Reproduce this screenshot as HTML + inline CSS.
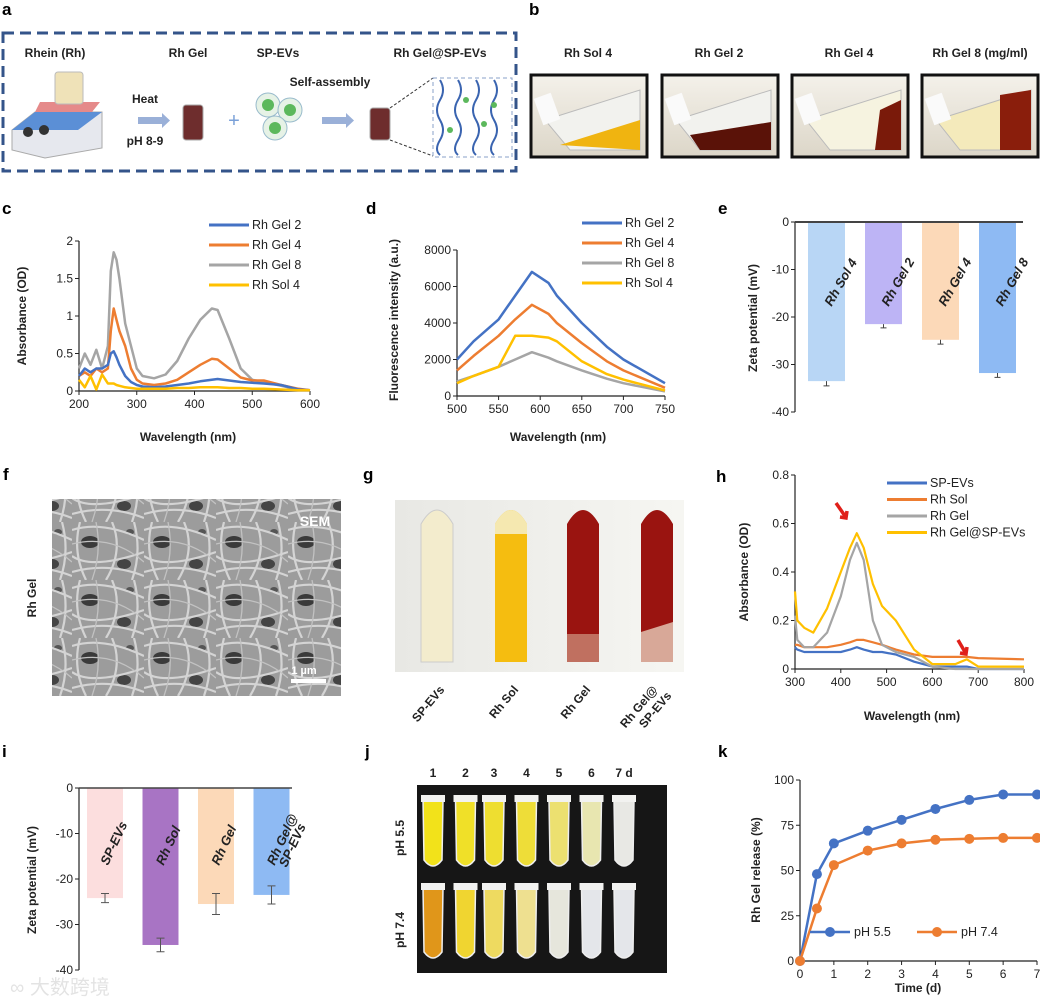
<!DOCTYPE html>
<html><head><meta charset="utf-8"><style>
body{margin:0;background:#fff;}
svg{display:block;font-family:"Liberation Sans",Arial,sans-serif;}
.pl{font-size:17px;font-weight:bold;}
.tk{font-size:12px;fill:#222;}
.at{font-size:12px;font-weight:bold;fill:#222;}
.lg{font-size:12.5px;fill:#222;}
</style></head><body>
<svg id="fig" width="1040" height="999" viewBox="0 0 1040 999">
<defs>
<linearGradient id="bg1" x1="0" x2="0" y1="0" y2="1"><stop offset="0" stop-color="#f4f1ea"/><stop offset="1" stop-color="#dcd6c8"/></linearGradient>
<linearGradient id="gbg" x1="0" x2="1"><stop offset="0" stop-color="#e8e8e4"/><stop offset="1" stop-color="#f6f6f2"/></linearGradient>
<pattern id="sem" width="72" height="58" patternUnits="userSpaceOnUse">
<rect width="72" height="58" fill="#9c9c9c"/>
<ellipse cx="18" cy="20" rx="9" ry="6" fill="#3a3a3a"/>
<ellipse cx="52" cy="42" rx="7" ry="5" fill="#444"/>
<ellipse cx="58" cy="10" rx="4" ry="3" fill="#555"/>
<path d="M0 8 Q30 -2 72 18 M0 34 Q20 48 72 30 M8 0 Q0 30 14 58 M40 0 Q52 28 34 58 M0 50 Q36 40 72 54 M62 0 Q70 30 60 58" stroke="#d4d4d4" stroke-width="2.2" fill="none"/>
<path d="M0 22 Q40 12 72 40 M24 0 Q30 30 20 58" stroke="#c2c2c2" stroke-width="1.3" fill="none"/>
</pattern>
</defs>

<!-- Panel a -->
<g>
<text class="pl" x="2" y="15">a</text>
<rect x="3" y="33" width="513" height="138" fill="none" stroke="#34548a" stroke-width="3" stroke-dasharray="11,6"/>
<g font-size="12" font-weight="bold" fill="#222">
<text x="55" y="57" text-anchor="middle">Rhein (Rh)</text>
<text x="188" y="57" text-anchor="middle">Rh Gel</text>
<text x="278" y="57" text-anchor="middle">SP-EVs</text>
<text x="440" y="57" text-anchor="middle">Rh Gel@SP-EVs</text>
<text x="145" y="103" text-anchor="middle">Heat</text>
<text x="145" y="145" text-anchor="middle">pH 8-9</text>
<text x="330" y="86" text-anchor="middle">Self-assembly</text>
</g>
<g>
<path d="M12 130 L35 112 L102 112 L102 148 L45 158 L12 150 Z" fill="#e6e8ee" stroke="#aaa"/>
<path d="M12 130 L35 112 L102 112 L78 130 Z" fill="#5b8fd6"/>
<circle cx="28" cy="132" r="5" fill="#333"/><circle cx="44" cy="130" r="5" fill="#333"/>
<path d="M40 102 L100 102 L92 112 L35 112 Z" fill="#e58a8a"/>
<rect x="55" y="72" width="28" height="32" rx="3" fill="#efe2b8" stroke="#bbb"/>
</g>
<rect x="138" y="117" width="24" height="7" fill="#9ab0d8"/>
<path d="M162 113 L170 120.5 L162 128Z" fill="#9ab0d8"/>
<rect x="183" y="105" width="20" height="35" rx="3" fill="#6e2d2d" stroke="#aaa"/>
<text x="234" y="127" font-size="20" fill="#7aa0d8" text-anchor="middle">+</text>
<g>
<circle cx="268" cy="105" r="12" fill="#e6f2e6" stroke="#9bc"/><circle cx="268" cy="105" r="6" fill="#5cb85c"/>
<circle cx="290" cy="110" r="12" fill="#e6f2e6" stroke="#9bc"/><circle cx="290" cy="110" r="6" fill="#5cb85c"/>
<circle cx="275" cy="128" r="12" fill="#e6f2e6" stroke="#9bc"/><circle cx="275" cy="128" r="6" fill="#5cb85c"/>
</g>
<rect x="322" y="117" width="24" height="7" fill="#9ab0d8"/><path d="M346 113 L354 120.5 L346 128Z" fill="#9ab0d8"/>
<rect x="370" y="108" width="20" height="32" rx="3" fill="#6e2d2d" stroke="#aaa"/>
<path d="M390 108 L433 78 M390 140 L433 156" stroke="#333" stroke-dasharray="3,2"/>
<rect x="433" y="78" width="79" height="79" fill="#fff" stroke="#8aa0c8" stroke-dasharray="4,3"/>
<g stroke="#3a64b0" stroke-width="2" fill="none">
<path d="M440 80 q6 10 0 20 q-6 10 0 20 q6 10 0 20 q-6 10 0 15"/>
<path d="M458 80 q6 10 0 20 q-6 10 0 20 q6 10 0 20 q-6 10 0 15"/>
<path d="M476 80 q6 10 0 20 q-6 10 0 20 q6 10 0 20 q-6 10 0 15"/>
<path d="M494 80 q6 10 0 20 q-6 10 0 20 q6 10 0 20 q-6 10 0 15"/>
</g>
<g fill="#5cb85c"><circle cx="466" cy="100" r="3"/><circle cx="484" cy="124" r="3"/><circle cx="450" cy="130" r="3"/><circle cx="494" cy="105" r="3"/></g>
</g>

<!-- Panel b -->
<g>
<text class="pl" x="529" y="15">b</text>
<g font-size="12" font-weight="bold" fill="#222" text-anchor="middle">
<text x="588" y="57">Rh Sol 4</text><text x="719" y="57">Rh Gel 2</text><text x="849" y="57">Rh Gel 4</text><text x="980" y="57">Rh Gel 8 (mg/ml)</text>
</g>
<g><rect x="531" y="75" width="116" height="82" fill="url(#bg1)" stroke="#111" stroke-width="3"/><path d="M545 120 L640 90 L640 150 L570 150Z" fill="#f2f2ee" stroke="#bbb"/><path d="M560 145 L640 120 L640 150 Z" fill="#f0b410"/><rect x="538" y="95" width="18" height="28" fill="#fafafa" transform="rotate(-20 547 109)"/></g>
<g><rect x="662" y="75" width="116" height="82" fill="url(#bg1)" stroke="#111" stroke-width="3"/><path d="M676 120 L771 90 L771 150 L700 150Z" fill="#f2f2ee" stroke="#bbb"/><path d="M690 135 L771 122 L771 150 L700 150 Z" fill="#5a1208"/><rect x="669" y="95" width="18" height="28" fill="#fafafa" transform="rotate(-20 678 109)"/></g>
<g><rect x="792" y="75" width="116" height="82" fill="url(#bg1)" stroke="#111" stroke-width="3"/><path d="M806 120 L901 90 L901 150 L830 150Z" fill="#f6f3e0" stroke="#bbb"/><path d="M880 110 L901 100 L901 150 L875 150 Z" fill="#7a1a0a"/><rect x="799" y="95" width="18" height="28" fill="#fafafa" transform="rotate(-20 808 109)"/></g>
<g><rect x="922" y="75" width="116" height="82" fill="url(#bg1)" stroke="#111" stroke-width="3"/><path d="M936 120 L1031 90 L1031 150 L960 150Z" fill="#f4eabb" stroke="#bbb"/><path d="M1000 95 L1031 90 L1031 150 L1000 150 Z" fill="#8a1e0c"/><rect x="929" y="95" width="18" height="28" fill="#fafafa" transform="rotate(-20 938 109)"/></g>
</g>

<!-- Chart layers -->
<g id="charts"></g>

<!-- Panel f -->
<g>
<text class="pl" x="3" y="480">f</text>
<text class="at" transform="translate(36,598) rotate(-90)" text-anchor="middle" font-size="13">Rh Gel</text>
<rect x="52" y="499" width="289" height="197" fill="url(#sem)"/>
<text x="315" y="526" font-size="14" font-weight="bold" fill="#fff" text-anchor="middle">SEM</text>
<text x="304" y="674" font-size="11" font-weight="bold" fill="#fff" text-anchor="middle">1 µm</text>
<rect x="291" y="679" width="35" height="4" fill="#fff"/>
</g>

<!-- Panel g -->
<g>
<text class="pl" x="363" y="480">g</text>
<rect x="395" y="500" width="289" height="172" fill="url(#gbg)"/>
<g><path d="M421 662 L421 524 Q437 496 453 524 L453 662Z" fill="#f3eccd" stroke="#ccc"/></g>
<g><path d="M495 662 L495 524 Q511 496 527 524 L527 662Z" fill="#f5bd10"/><path d="M495 534 L495 524 Q511 496 527 524 L527 534Z" fill="#f5e8b0"/></g>
<g><path d="M567 660 L567 524 Q583 496 599 524 L599 660Z" fill="#9a1410"/><rect x="567" y="634" width="32" height="28" fill="#c07060"/></g>
<g><path d="M641 660 L641 524 Q657 496 673 524 L673 660Z" fill="#9a1410"/><path d="M641 632 L673 622 L673 662 L641 662Z" fill="#d8a898"/></g>
<g font-size="12" font-weight="bold" fill="#222" text-anchor="end">
<text transform="translate(445,690) rotate(-50)">SP-EVs</text>
<text transform="translate(519,690) rotate(-50)">Rh Sol</text>
<text transform="translate(591,690) rotate(-50)">Rh Gel</text>
<text transform="translate(658,690) rotate(-50)">Rh Gel@</text>
<text transform="translate(672,696) rotate(-50)">SP-EVs</text>
</g>
</g>

<!-- Panel j -->
<g>
<text class="pl" x="365" y="757">j</text>
<rect x="417" y="785" width="250" height="188" fill="#161616"/>
<g id="jtubes"></g>
<text class="at" transform="translate(404,838) rotate(-90)" text-anchor="middle" font-size="13">pH 5.5</text>
<text class="at" transform="translate(404,930) rotate(-90)" text-anchor="middle" font-size="13">pH 7.4</text>
</g>
<text x="10" y="994" font-size="20" fill="#ddd" opacity="0.8">∞ 大数跨境</text>

<script>
// ---------- DATA ----------
const cWave = [200,210,220,230,240,250,255,260,265,270,280,290,300,310,330,350,370,390,410,430,440,460,480,500,520,550,580,600];
const cGel8 = [0.3,0.5,0.35,0.55,0.3,0.6,1.6,1.85,1.75,1.5,0.9,0.6,0.3,0.2,0.17,0.22,0.4,0.7,0.95,1.1,1.08,0.7,0.3,0.15,0.12,0.07,0.02,0.01];
const cGel4 = [0.2,0.25,0.2,0.3,0.25,0.3,0.8,1.1,0.95,0.8,0.6,0.3,0.15,0.1,0.08,0.1,0.15,0.25,0.35,0.43,0.42,0.3,0.18,0.14,0.14,0.08,0.03,0.01];
const cGel2 = [0.2,0.3,0.25,0.3,0.3,0.35,0.5,0.53,0.45,0.35,0.2,0.12,0.08,0.06,0.05,0.06,0.08,0.1,0.13,0.15,0.16,0.14,0.12,0.11,0.1,0.08,0.02,0.01];
const cSol4 = [0.15,0.05,0.2,0.02,0.22,0.1,0.1,0.1,0.08,0.07,0.05,0.04,0.03,0.03,0.03,0.03,0.04,0.04,0.05,0.05,0.05,0.04,0.04,0.03,0.03,0.02,0.01,0.01];
const cXTicks = [200,300,400,500,600];
const cYTicks = [0,0.5,1,1.5,2];
const dWave = [500,520,550,570,590,610,620,650,680,700,750];
const dGel2 = [2000,3000,4200,5500,6800,6200,5500,4000,2700,2000,700];
const dGel4 = [1400,2200,3300,4200,5000,4500,4000,2900,1900,1400,450];
const dGel8 = [800,1100,1600,2000,2400,2100,1900,1400,950,700,250];
const dSol4 = [700,1100,1600,3300,3300,3200,3000,1900,1200,900,300];
const dXTicks = [500,550,600,650,700,750];
const dYTicks = [0,2000,4000,6000,8000];
const eCats = ["Rh Sol 4","Rh Gel 2","Rh Gel 4","Rh Gel 8"];
const eVals = [-33.5,-21.5,-24.8,-31.8];
const eErr = [1.0,0.8,0.9,0.9];
const eYTicks = [0,-10,-20,-30,-40];
const hWave = [300,305,320,340,370,400,420,435,450,470,490,520,560,600,650,675,700,800];
const hEVs = [0.09,0.08,0.07,0.07,0.07,0.07,0.08,0.09,0.08,0.07,0.07,0.06,0.03,0.01,0.01,0.01,0.0,0.0];
const hSol = [0.1,0.1,0.09,0.09,0.09,0.1,0.11,0.12,0.12,0.11,0.1,0.08,0.06,0.05,0.05,0.05,0.045,0.04];
const hGel = [0.22,0.12,0.09,0.09,0.15,0.3,0.45,0.52,0.45,0.2,0.1,0.07,0.05,0.01,0.0,0.0,0.0,0.0];
const hGelEV = [0.32,0.2,0.17,0.15,0.25,0.4,0.5,0.56,0.5,0.35,0.26,0.2,0.08,0.02,0.02,0.04,0.01,0.01];
const hXTicks = [300,400,500,600,700,800];
const hYTicks = [0,0.2,0.4,0.6,0.8];
const iCats = ["SP-EVs","Rh Sol","Rh Gel","Rh Gel@ SP-EVs"];
const iVals = [-24.2,-34.5,-25.5,-23.5];
const iErr = [1.0,1.5,2.3,2.0];
const kDays = [0,0.5,1,2,3,4,5,6,7];
const k55 = [0,48,65,72,78,84,89,92,92];
const k74 = [0,29,53,61,65,67,67.5,68,68];
const kXTicks = [0,1,2,3,4,5,6,7];
const kYTicks = [0,25,50,75,100];
const jDays = ["1","2","3","4","5","6","7 d"];
const j55 = ["#f2e21a","#f0e028","#eede30","#eedd38","#ece070","#e8e6b0","#e8e8e4"];
const j74 = ["#e0961a","#f0d530","#eeda60","#eee090","#e6e6dc","#e4e6ea","#e4e6ea"];

// ---------- HELPERS ----------
const NS = "http://www.w3.org/2000/svg";
const root = document.getElementById('charts');
function lin(d0,d1,r0,r1){return v=>r0+(v-d0)*(r1-r0)/(d1-d0);}
function mk(tag,attrs,parent){const e=document.createElementNS(NS,tag);for(const k in attrs)e.setAttribute(k,attrs[k]);(parent||root).appendChild(e);return e;}
function txt(s,x,y,cls,anchor,parent){const t=mk('text',{x:x,y:y,class:cls,'text-anchor':anchor||'middle'},parent);t.textContent=s;return t;}
function line(xs,ys,sx,sy,color,w,name){
  let d='';xs.forEach((v,i)=>{d+=(i?'L':'M')+sx(v).toFixed(1)+' '+sy(ys[i]).toFixed(1);});
  const p=mk('path',{d:d,fill:'none',stroke:color,'stroke-width':w,'stroke-linejoin':'round'});
  
  
  return p;
}
function axes(x0,x1,y0,y1,sx,sy,xt,yt,fmtx,fmty){
  const a=mk('path',{d:`M${x0} ${y1} L${x0} ${y0} L${x1} ${y0}`,fill:'none',stroke:'#222','stroke-width':1.2});
  
  
  yt.forEach(v=>{mk('path',{d:`M${x0-4} ${sy(v)} L${x0} ${sy(v)}`,stroke:'#222'});
    const t=txt(fmty(v),x0-6,sy(v)+4,'tk','end');});
  if(xt) xt.forEach(v=>{mk('path',{d:`M${sx(v)} ${y0} L${sx(v)} ${y0+4}`,stroke:'#222'});
    const t=txt(fmtx(v),sx(v),y0+17,'tk');});
}
function legend(items,x,y,dy){
  items.forEach((it,i)=>{mk('path',{d:`M${x} ${y+i*dy} L${x+40} ${y+i*dy}`,stroke:it[1],'stroke-width':3});
    const t=txt(it[0],x+43,y+i*dy+4,'lg','start');});
}
function ylabel(s,x,y){const t=mk('text',{transform:`translate(${x},${y}) rotate(-90)`,class:'at','text-anchor':'middle'});t.textContent=s;}
function xlabel(s,x,y){const t=txt(s,x,y,'at');}
function plab(s,x,y){const t=txt(s,x,y,'pl','start');}
const BLUE='#4472c4',ORANGE='#ed7d31',GRAY='#a5a5a5',YEL='#ffc000';

// ---------- c ----------
plab('c',2,214);
{const sx=lin(200,600,79,310), sy=lin(0,2,391,241);
 axes(79,310,391,241,sx,sy,cXTicks,cYTicks,v=>v,v=>v);
 line(cWave,cGel8,sx,sy,GRAY,2.5,'line-rh-gel-8');
 line(cWave,cGel4,sx,sy,ORANGE,2.5,'line-rh-gel-4');
 line(cWave,cGel2,sx,sy,BLUE,2.5,'line-rh-gel-2');
 line(cWave,cSol4,sx,sy,YEL,2.5,'line-rh-sol-4');
 legend([['Rh Gel 2',BLUE],['Rh Gel 4',ORANGE],['Rh Gel 8',GRAY],['Rh Sol 4',YEL]],209,225,20);
 ylabel('Absorbance (OD)',26,316); xlabel('Wavelength (nm)',188,441);}

// ---------- d ----------
plab('d',366,214);
{const sx=lin(500,750,457,665), sy=lin(0,8000,396,250);
 axes(457,665,396,250,sx,sy,dXTicks,dYTicks,v=>v,v=>v);
 line(dWave,dGel2,sx,sy,BLUE,2.5,'line-rh-gel-2');
 line(dWave,dGel4,sx,sy,ORANGE,2.5,'line-rh-gel-4');
 line(dWave,dGel8,sx,sy,GRAY,2.5,'line-rh-gel-8');
 line(dWave,dSol4,sx,sy,YEL,2.5,'line-rh-sol-4');
 legend([['Rh Gel 2',BLUE],['Rh Gel 4',ORANGE],['Rh Gel 8',GRAY],['Rh Sol 4',YEL]],582,223,20);
 ylabel('Fluorescence intensity (a.u.)',398,320); xlabel('Wavelength (nm)',558,441);}

// ---------- e ----------
plab('e',718,214);
{const eCol=['#b8d6f5','#bdb4f5','#fcd9b8','#8ebaf3'];
 const sy=lin(0,-40,222,412), bx0=808, bstep=57, bw=37;
 mk('path',{d:`M795 412 L795 222`,stroke:'#222','stroke-width':1.2});
 eYTicks.forEach(v=>{mk('path',{d:`M791 ${sy(v)} L795 ${sy(v)}`,stroke:'#222'});const t=txt(v,789,sy(v)+4,'tk','end');});
 eVals.forEach((v,i)=>{const x=bx0+i*bstep;
  const r=mk('rect',{x:x,y:sy(0),width:bw,height:sy(v)-sy(0),fill:eCol[i]});
  
  
  const cx=x+bw/2;
  mk('path',{d:`M${cx} ${sy(v)} L${cx} ${sy(v-eErr[i])} M${cx-3} ${sy(v-eErr[i])} L${cx+3} ${sy(v-eErr[i])}`,stroke:'#444'});
  const t=mk('text',{transform:`translate(${cx+5},${sy(0)+85}) rotate(-60)`,'font-size':'13','font-weight':'bold','font-style':'italic',fill:'#222'});t.textContent=eCats[i];
  
  
 });
 mk('path',{d:`M795 222 L1023 222`,stroke:'#444','stroke-width':2});
 ylabel('Zeta potential (mV)',757,318);}

// ---------- h ----------
plab('h',716,482);
{const sx=lin(300,800,795,1024), sy=lin(0,0.8,669,475);
 axes(795,1024,669,475,sx,sy,hXTicks,hYTicks,v=>v,v=>v===0?'0':v.toFixed(1));
 line(hWave,hEVs,sx,sy,BLUE,2.2,'line-sp-evs');
 line(hWave,hSol,sx,sy,ORANGE,2.2,'line-rh-sol');
 line(hWave,hGel,sx,sy,GRAY,2.2,'line-rh-gel');
 line(hWave,hGelEV,sx,sy,YEL,2.2,'line-rh-gel-sp-evs');
 legend([['SP-EVs',BLUE],['Rh Sol',ORANGE],['Rh Gel',GRAY],['Rh Gel@SP-EVs',YEL]],887,483,16.5);
 const a1=mk('path',{d:'M836 503 L845 516 M840 517 L846 518 L847 511',stroke:'#e0201a','stroke-width':3.5,fill:'none'});
 
 const a2=mk('path',{d:'M958 640 L965 652 M960 653 L966 654 L967 647',stroke:'#e0201a','stroke-width':3.5,fill:'none'});
 
 ylabel('Absorbance (OD)',748,572); xlabel('Wavelength (nm)',912,720);}

// ---------- i ----------
plab('i',2,757);
{const iCol=['#fcdede','#a874c4','#fcd9b8','#8ebaf3'];
 const sy=lin(0,-40,788,970);
 mk('path',{d:`M79 970 L79 788`,stroke:'#222','stroke-width':1.2});
 eYTicks.forEach(v=>{mk('path',{d:`M75 ${sy(v)} L79 ${sy(v)}`,stroke:'#222'});const t=txt(v,73,sy(v)+4,'tk','end');});
 iVals.forEach((v,i)=>{const x=87+i*55.5, bw=36;
  const r=mk('rect',{x:x,y:sy(0),width:bw,height:sy(v)-sy(0),fill:iCol[i]});
  
  
  const cx=x+bw/2;
  mk('path',{d:`M${cx} ${sy(v+iErr[i])} L${cx} ${sy(v-iErr[i])} M${cx-4} ${sy(v+iErr[i])} L${cx+4} ${sy(v+iErr[i])} M${cx-4} ${sy(v-iErr[i])} L${cx+4} ${sy(v-iErr[i])}`,stroke:'#555'});
  const parts=iCats[i].split(' SP');
  const t=mk('text',{transform:`translate(${cx+3},${sy(0)+78}) rotate(-65)`,'font-size':'13','font-weight':'bold','font-style':'italic',fill:'#222','text-anchor':'start'});
  t.textContent=parts[0];
  
  
  if(parts[1]){const t2=mk('text',{transform:`translate(${cx+15},${sy(0)+80}) rotate(-65)`,'font-size':'13','font-weight':'bold','font-style':'italic',fill:'#222'});t2.textContent='SP'+parts[1];
   }
 });
 mk('path',{d:`M79 788 L292 788`,stroke:'#444','stroke-width':1.5});
 ylabel('Zeta potential (mV)',36,880);}

// ---------- j tubes ----------
{const jg=document.getElementById('jtubes');
 jDays.forEach((d,i)=>{const cx=433+i*32.5-(i>1?4:0);
  const t=txt(d,cx,777,'at','middle',jg);t.setAttribute('font-size','12');
  
  const a=mk('path',{d:`M${cx-10} 800 L${cx+10} 800 L${cx+9} 860 Q${cx} 872 ${cx-9} 860 Z`,fill:j55[i],stroke:'#eee','stroke-width':1.5},jg);
  
  mk('rect',{x:cx-12,y:795,width:24,height:7,fill:'#f2f2f0'},jg);
  const b=mk('path',{d:`M${cx-10} 888 L${cx+10} 888 L${cx+9} 952 Q${cx} 964 ${cx-9} 952 Z`,fill:j74[i],stroke:'#eee','stroke-width':1.5},jg);
  
  mk('rect',{x:cx-12,y:883,width:24,height:7,fill:'#f2f2f0'},jg);
 });}

// ---------- k ----------
plab('k',718,757);
{const sx=lin(0,7,800,1037), sy=lin(0,100,961,780);
 axes(800,1037,961,780,sx,sy,kXTicks,kYTicks,v=>v,v=>v);
 line(kDays,k55,sx,sy,BLUE,2.5,'line-ph-5-5');
 line(kDays,k74,sx,sy,ORANGE,2.5,'line-ph-7-4');
 kDays.forEach((d,i)=>{
  const p=mk('circle',{cx:sx(d),cy:sy(k55[i]),r:5,fill:BLUE});
  const q=mk('circle',{cx:sx(d),cy:sy(k74[i]),r:5,fill:ORANGE});
 });
 [['pH 5.5',BLUE,810],['pH 7.4',ORANGE,917]].forEach(l=>{
  mk('path',{d:`M${l[2]} 932 L${l[2]+40} 932`,stroke:l[1],'stroke-width':2.5});
  mk('circle',{cx:l[2]+20,cy:932,r:5,fill:l[1]});
  const t=txt(l[0],l[2]+44,936,'lg','start');
 });
 ylabel('Rh Gel release (%)',760,870); xlabel('Time (d)',918,992);}
</script>
</svg>
</body></html>
